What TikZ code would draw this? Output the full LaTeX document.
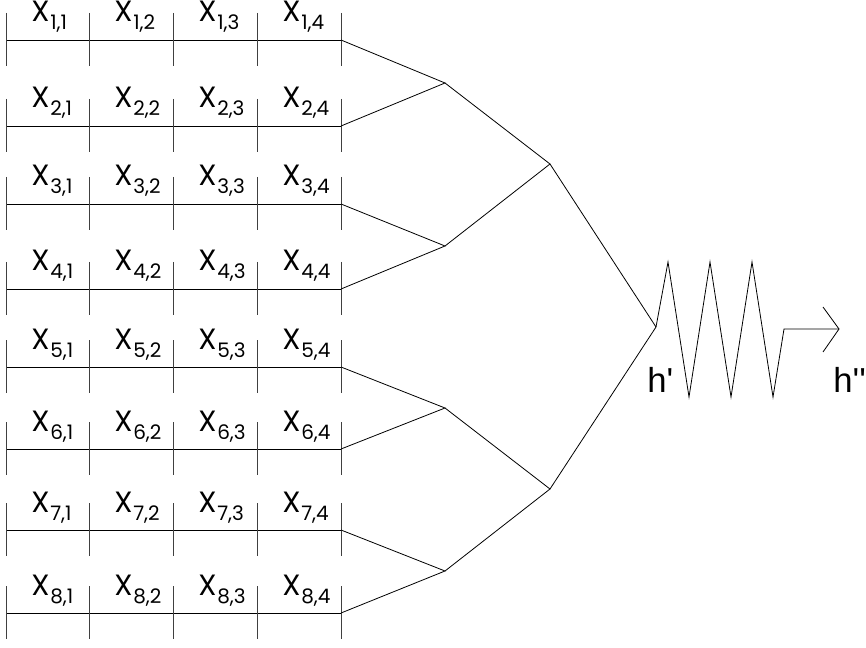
\documentclass[tikz,border=0pt]{standalone}
\usepackage{fontspec}
\newfontfamily\xfont{Poppins}
\newfontfamily\hfont{Liberation Sans}
\begin{document}
\begin{tikzpicture}[x=0.75pt,y=-0.75pt,line width=0.6pt,
  lab/.style={font=\xfont\fontsize{22}{24}\selectfont, anchor=base west, inner sep=0pt},
  tick/.style={draw=black!75},
  hlab/.style={font=\hfont\fontsize{26}{28}\selectfont, anchor=base west, inner sep=0pt}]
\useasboundingbox (0,0) rectangle (866,648);
\foreach \r/\y in {1/40,2/126,3/204,4/289,5/367,6/449,7/530,8/613} {
  \coordinate (s\r) at (6,\y);
  \coordinate (r\r) at (341,\y);
  \draw (s\r) -- (r\r);
  \foreach \x in {6,89,173,257,341} { \draw[tick] (\x,\y-27) -- (\x,\y+26); }
  \foreach \c/\x in {1/31,2/114,3/198,4/282} {
    \node[lab] (x\r\c) at (\x,\y-18) {X\kern0.5pt\raisebox{-6pt}{\fontsize{15}{16}\selectfont\r,\c}};
  }
}
\coordinate (a) at (445,83);
\coordinate (b) at (445,246);
\coordinate (c) at (445,408);
\coordinate (d) at (445,571);
\coordinate (e) at (550,164);
\coordinate (f) at (550,489);
\coordinate (g) at (656,327);
\coordinate (o) at (839,329);
\draw (r1) -- (a) -- (r2);
\draw (r3) -- (b) -- (r4);
\draw (r5) -- (c) -- (r6);
\draw (r7) -- (d) -- (r8);
\draw (a) -- (e) -- (b);
\draw (c) -- (f) -- (d);
\draw (e) -- (g) -- (f);
\draw (g) -- (668,262) -- (689,397) -- (710,262) -- (731,397) -- (752,262) -- (773,397) -- (784,329) -- (o);
\draw (823,307) -- (o) -- (823,352);
\node[hlab] (h1) at (647,392) {h\textquotesingle};
\node[hlab] (h2) at (833,392) {h\textquotesingle\textquotesingle};
\end{tikzpicture}
\end{document}
